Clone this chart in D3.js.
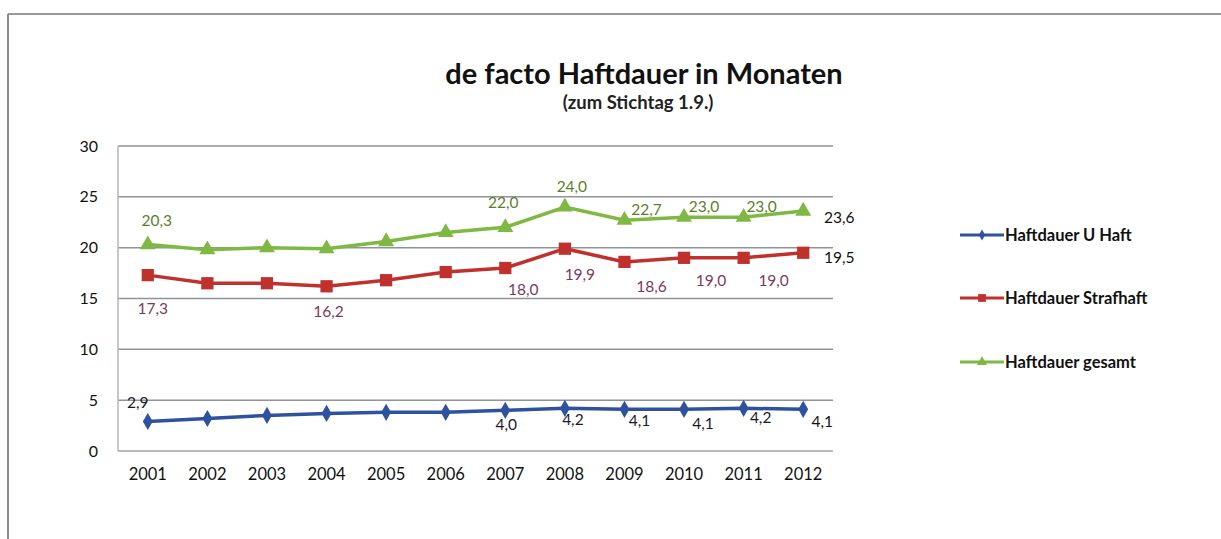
<!DOCTYPE html>
<html>
<head>
<meta charset="utf-8">
<script src="https://cdn.jsdelivr.net/npm/d3@7"></script>
<style>
  body { margin: 0; background: #fff; }
  text { font-family: Lato, "Open Sans", sans-serif; }
</style>
</head>
<body>
<script>
// data
var years = ['2001','2002','2003','2004','2005','2006','2007','2008','2009','2010','2011','2012'];
var uHaft     = [2.9, 3.2, 3.5, 3.7, 3.8, 3.8, 4.0, 4.2, 4.1, 4.1, 4.2, 4.1];
var strafhaft = [17.3, 16.5, 16.5, 16.2, 16.8, 17.6, 18.0, 19.9, 18.6, 19.0, 19.0, 19.5];
var gesamt    = [20.3, 19.8, 20.0, 19.9, 20.6, 21.5, 22.0, 24.0, 22.7, 23.0, 23.0, 23.6];
var seriesNames = ['Haftdauer U Haft', 'Haftdauer Strafhaft', 'Haftdauer gesamt'];
var yTicks = [0, 5, 10, 15, 20, 25, 30];
// which points carry a value label (index into years)
var uHaftLabeled     = [0, 6, 7, 8, 9, 10, 11];
var strafhaftLabeled = [0, 3, 6, 7, 8, 9, 10, 11];
var gesamtLabeled    = [0, 6, 7, 8, 9, 10, 11];

var W = 1221, H = 539;
var plot = {left: 118, right: 833, top: 146, bottom: 451};

var svg = d3.select('body').append('svg').attr('width', W).attr('height', H);

// outer frame (only top + left visible in the scan)
svg.append('line').attr('x1', 8).attr('x2', W).attr('y1', 14).attr('y2', 14)
    .attr('stroke', '#9a9a9a').attr('stroke-width', 2);
svg.append('line').attr('x1', 8).attr('x2', 8).attr('y1', 14).attr('y2', H)
    .attr('stroke', '#8a8a8a').attr('stroke-width', 2);

// titles
svg.append('text').attr('x', 644).attr('y', 84).attr('text-anchor', 'middle')
    .attr('font-size', 29).attr('font-weight', 'bold').attr('fill', '#111')
    .text('de facto Haftdauer in Monaten');
svg.append('text').attr('x', 638).attr('y', 109).attr('text-anchor', 'middle')
    .attr('font-size', 18.5).attr('font-weight', 'bold').attr('fill', '#222')
    .text('(zum Stichtag 1.9.)');

var x = d3.scaleBand().domain(years).range([plot.left, plot.right]);
var y = d3.scaleLinear().domain([0, 30]).range([plot.bottom, plot.top]);
var cx = d => x(d) + x.bandwidth() / 2;

// gridlines
svg.append('g').selectAll('line').data(yTicks.filter(t => t > 0)).enter().append('line')
    .attr('x1', plot.left).attr('x2', plot.right)
    .attr('y1', d => y(d)).attr('y2', d => y(d))
    .attr('stroke', '#8f9499').attr('stroke-width', 1.5);

// plot frame left + bottom
svg.append('line').attr('x1', plot.left).attr('x2', plot.left).attr('y1', plot.top).attr('y2', plot.bottom)
    .attr('stroke', '#b5b5b5').attr('stroke-width', 1.5);
svg.append('line').attr('x1', plot.left).attr('x2', plot.right).attr('y1', plot.bottom).attr('y2', plot.bottom)
    .attr('stroke', '#a0a4a8').attr('stroke-width', 1.5);

// axes
var yAxis = d3.axisLeft(y).tickValues(yTicks).tickSize(0).tickPadding(20);
svg.append('g').attr('transform', 'translate(' + plot.left + ',0)').call(yAxis)
    .call(g => g.select('.domain').remove())
    .selectAll('text').attr('font-size', 16).attr('fill', '#111');

var xAxis = d3.axisBottom(x).tickSize(0).tickPadding(17);
svg.append('g').attr('transform', 'translate(0,' + plot.bottom + ')').call(xAxis)
    .call(g => g.select('.domain').remove())
    .selectAll('text').attr('font-size', 16.5).attr('fill', '#111');

var series = [
    {name: seriesNames[0], values: uHaft, color: '#2f52a0', symbol: d3.symbolDiamond, size: 85, labeled: uHaftLabeled, labelColor: '#1a1a2a',
     offsets: {0: [-10, -19], 6: [1, 15], 7: [8, 12], 8: [15, 12], 9: [19, 15], 10: [17, 10], 11: [19, 13]}},
    {name: seriesNames[1], values: strafhaft, color: '#c0302c', symbol: d3.symbolSquare, size: 150, labeled: strafhaftLabeled, labelColor: '#7a3a60',
     offsets: {0: [5, 34], 3: [2, 26], 6: [18, 22], 7: [15, 26], 8: [27, 25], 9: [27, 23], 10: [30, 23], 11: [36, 5]}},
    {name: seriesNames[2], values: gesamt, color: '#7fb842', symbol: d3.symbolTriangle, size: 110, labeled: gesamtLabeled, labelColor: '#5c7f2c',
     offsets: {0: [9, -24], 6: [-2, -24], 7: [7, -20], 8: [22, -10], 9: [20, -10], 10: [18, -10], 11: [36, 7]}}
];

var line = d3.line().x((d, i) => cx(years[i])).y(d => y(d));

series.forEach(s => {
    var g = svg.append('g');
    g.append('path').datum(s.values).attr('d', line)
        .attr('fill', 'none').attr('stroke', s.color).attr('stroke-width', 3.5);
    g.selectAll('path.m').data(s.values).enter().append('path').attr('class', 'm')
        .attr('transform', (d, i) => 'translate(' + cx(years[i]) + ',' + y(d) + ')')
        .attr('d', d3.symbol().type(s.symbol).size(s.size))
        .attr('fill', s.color);
    g.selectAll('text').data(s.labeled).enter().append('text')
        .attr('x', i => cx(years[i]) + s.offsets[i][0])
        .attr('y', i => y(s.values[i]) + s.offsets[i][1] + 5)
        .attr('text-anchor', 'middle')
        .attr('font-size', 15.5).attr('fill', (i) => i === 11 ? '#111' : s.labelColor)
        .text(i => d3.format('.1f')(s.values[i]).replace('.', ','));
});

// legend
var legendY = [235, 298, 362];
var lg = svg.append('g').selectAll('g').data(series).enter().append('g')
    .attr('transform', (d, i) => 'translate(960,' + legendY[i] + ')');
lg.append('line').attr('x1', 0).attr('x2', 44).attr('stroke', d => d.color).attr('stroke-width', 3);
lg.append('path').attr('transform', 'translate(22,0)')
    .attr('d', d => d3.symbol().type(d.symbol).size(d.size * 0.4)())
    .attr('fill', d => d.color);
lg.append('text').attr('x', 45).attr('y', 6).attr('font-size', 16.5).attr('font-weight', 'bold')
    .attr('fill', '#111').text(d => d.name);
</script>
</body>
</html>
